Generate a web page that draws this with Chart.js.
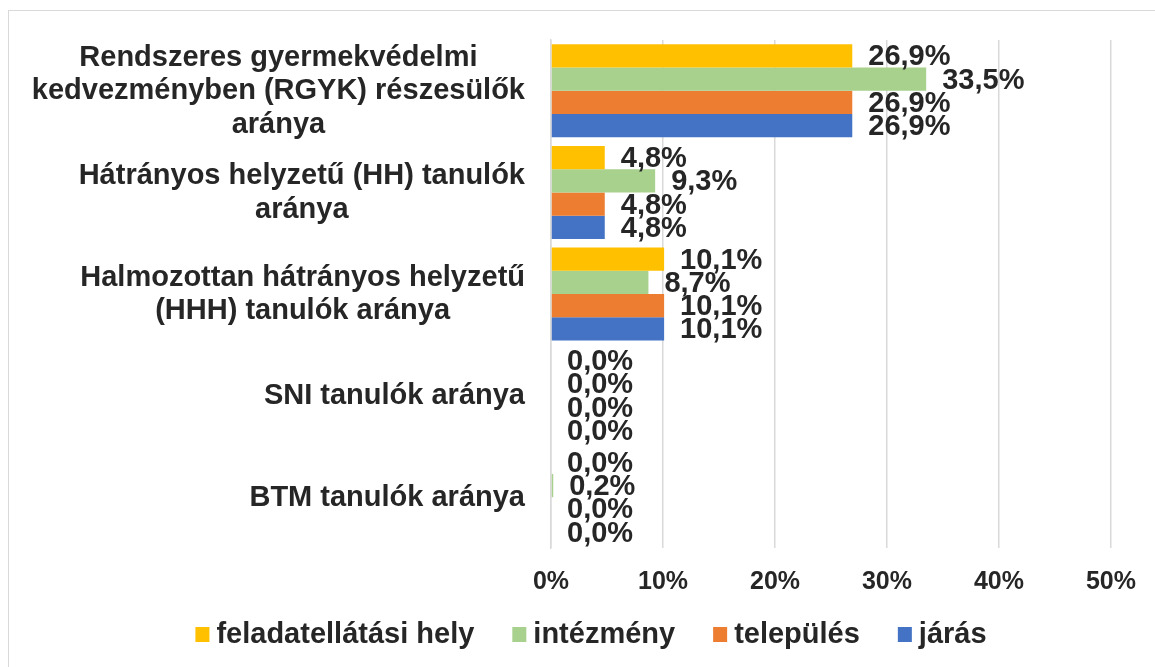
<!DOCTYPE html>
<html>
<head>
<meta charset="utf-8">
<script src="https://cdn.jsdelivr.net/npm/chart.js@4.4.0/dist/chart.umd.min.js"></script>
<style>
  html, body { margin: 0; padding: 0; background: #fff; }
  #wrap { position: relative; width: 1155px; height: 667px; overflow: hidden; }
  #frame { position: absolute; left: 8px; top: 10px; width: 1200px; height: 700px; border: 1px solid #d9d9d9; }
  #chart { position: absolute; left: 0; top: 0; }
</style>
</head>
<body>
<div id="wrap">
  <div id="frame"></div>
  <canvas id="chart" width="1155" height="667"></canvas>
</div>
<script>
const categories = [
    ["Rendszeres gyermekvédelmi", "kedvezményben (RGYK) részesülők", "aránya"],
    ["Hátrányos helyzetű (HH) tanulók", "aránya"],
    ["Halmozottan hátrányos helyzetű", "(HHH) tanulók aránya"],
    ["SNI tanulók aránya"],
    ["BTM tanulók aránya"]
];
const seriesNames = ["feladatellátási hely", "intézmény", "település", "járás"];
const seriesColors = ["#FFC000", "#A9D18E", "#ED7D31", "#4472C4"];
const feladatellatasi = [26.9, 4.8, 10.1, 0.0, 0.0];
const intezmeny = [33.5, 9.3, 8.7, 0.0, 0.2];
const telepules = [26.9, 4.8, 10.1, 0.0, 0.0];
const jaras = [26.9, 4.8, 10.1, 0.0, 0.0];
const xTicks = [0, 10, 20, 30, 40, 50];

const textColor = "#262626";
const fontFamily = "'Liberation Sans', Arial, sans-serif";

// value labels next to each bar
const barLabels = {
    id: "barLabels",
    afterDatasetsDraw(chart) {
        const ctx = chart.ctx;
        ctx.save();
        ctx.font = "bold 29px " + fontFamily;
        ctx.fillStyle = textColor;
        ctx.textAlign = "left";
        ctx.textBaseline = "alphabetic";
        chart.data.datasets.forEach((ds, i) => {
            chart.getDatasetMeta(i).data.forEach((bar, j) => {
                const txt = ds.data[j].toFixed(1).replace(".", ",") + "%";
                ctx.fillText(txt, bar.x + 16, bar.y + 9.5);
            });
        });
        ctx.restore();
    }
};

// category labels: block right aligned, lines centred inside the block
const catLabels = {
    id: "catLabels",
    afterDraw(chart) {
        const ctx = chart.ctx;
        const y = chart.scales.y;
        const right = 525;
        const lh = 33.5;
        ctx.save();
        ctx.font = "bold 29px " + fontFamily;
        ctx.fillStyle = textColor;
        ctx.textAlign = "center";
        ctx.textBaseline = "alphabetic";
        categories.forEach((lines, i) => {
            const w = Math.max(...lines.map(l => ctx.measureText(l).width));
            const cx = right - w / 2;
            const cy = y.getPixelForValue(i);
            lines.forEach((l, k) => {
                ctx.fillText(l, cx, cy + (k - (lines.length - 1) / 2) * lh + 8.5);
            });
        });
        ctx.restore();
    }
};

// legend along the bottom
const bottomLegend = {
    id: "bottomLegend",
    afterDraw(chart) {
        const ctx = chart.ctx;
        const box = 14, gap = 7, spacing = 38, midX = 591, baseY = 643;
        ctx.save();
        ctx.font = "bold 29px " + fontFamily;
        ctx.textAlign = "left";
        ctx.textBaseline = "alphabetic";
        const widths = seriesNames.map(n => ctx.measureText(n).width);
        const total = widths.reduce((a, b) => a + b, 0) + seriesNames.length * (box + gap) + (seriesNames.length - 1) * spacing;
        let x = midX - total / 2;
        seriesNames.forEach((n, i) => {
            ctx.fillStyle = seriesColors[i];
            ctx.fillRect(x, 627, box, 15);
            ctx.fillStyle = textColor;
            ctx.fillText(n, x + box + gap, baseY);
            x += box + gap + widths[i] + spacing;
        });
        ctx.restore();
    }
};

const datasetValues = [feladatellatasi, intezmeny, telepules, jaras];

new Chart(document.getElementById("chart"), {
    type: "bar",
    data: {
        labels: categories.map(c => c.join(" ")),
        datasets: seriesNames.map((name, i) => ({
            label: name,
            data: datasetValues[i],
            backgroundColor: seriesColors[i],
            borderWidth: 0,
            barPercentage: 1.0,
            categoryPercentage: 0.915
        }))
    },
    options: {
        indexAxis: "y",
        responsive: false,
        animation: false,
        layout: { padding: { top: 40, right: 42, bottom: 59, left: 0 } },
        scales: {
            x: {
                min: 0,
                max: 50,
                afterBuildTicks: s => { s.ticks = xTicks.map(v => ({ value: v })); },
                afterFit: s => { s.height = 60; },
                ticks: {
                    callback: v => v + "%",
                    color: textColor,
                    font: { family: fontFamily, size: 25, weight: "bold" },
                    padding: 19
                },
                grid: { color: "#d9d9d9", lineWidth: 1.5, drawTicks: false },
                border: { display: false }
            },
            y: {
                afterFit: s => { s.width = 551; },
                ticks: { display: false },
                grid: { display: false, drawTicks: false },
                border: { display: true, color: "#d9d9d9", width: 1.5 }
            }
        },
        plugins: {
            legend: { display: false },
            tooltip: { enabled: false }
        }
    },
    plugins: [barLabels, catLabels, bottomLegend]
});
</script>
</body>
</html>
